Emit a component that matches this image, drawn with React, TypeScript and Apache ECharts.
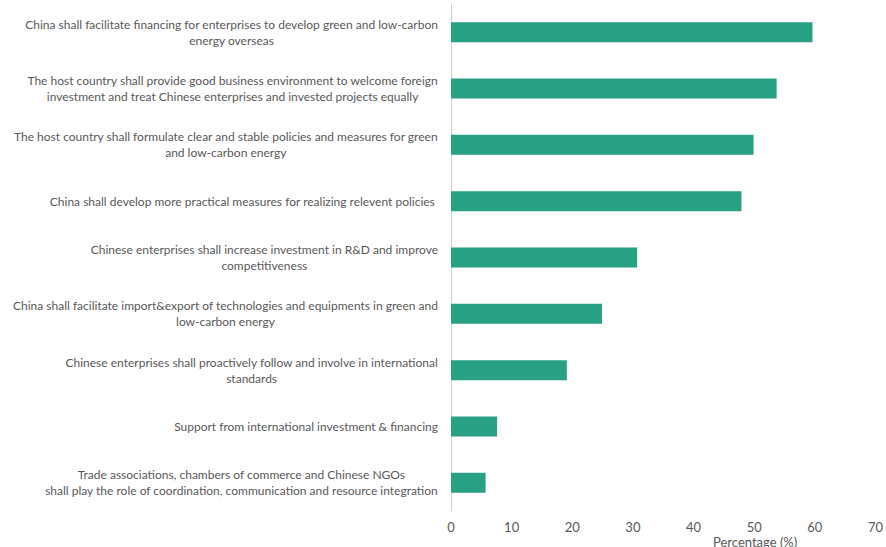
import React, { useEffect, useRef } from "react";
import * as echarts from "echarts";

const categories: string[] = [
  "China shall facilitate financing for enterprises to develop green and low-carbon\nenergy overseas",
  "The host country shall provide good business environment to welcome foreign\ninvestment and treat Chinese enterprises and invested projects equally",
  "The host country shall formulate clear and stable policies and measures for green\nand low-carbon energy",
  "China shall develop more practical measures for realizing relevent policies ",
  "Chinese enterprises shall increase investment in R&D and improve\ncompetitiveness",
  "China shall facilitate import&export of technologies and equipments in green and\nlow-carbon energy",
  "Chinese enterprises shall proactively follow and involve in international\nstandards",
  "Support from international investment & financing",
  "Trade associations, chambers of commerce and Chinese NGOs\nshall play the role of coordination, communication and resource integration",
];

const values: number[] = [59.6, 53.7, 49.9, 47.9, 30.7, 24.9, 19.1, 7.6, 5.7];

const xTicks: number[] = [0, 10, 20, 30, 40, 50, 60, 70];

const FONT = "Lato, 'Open Sans', sans-serif";

export default function App() {
  const ref = useRef<HTMLDivElement>(null);
  useEffect(() => {
    if (!ref.current) return;
    const chart = echarts.init(ref.current, null, { renderer: "svg" });
    chart.setOption({
      animation: false,
      backgroundColor: "#ffffff",
      grid: { left: 451, right: 6, top: 4, bottom: 36, containLabel: false },
      xAxis: {
        type: "value",
        min: xTicks[0],
        max: xTicks[xTicks.length - 1],
        interval: 10,
        axisLine: { show: false },
        axisTick: { show: false },
        splitLine: { show: false },
        axisLabel: {
          color: "#595959",
          fontSize: 13,
          fontFamily: FONT,
          margin: 9,
        },
      },
      yAxis: {
        type: "category",
        inverse: true,
        data: categories,
        axisLine: { show: true, lineStyle: { color: "#d0d0d0", width: 1 } },
        axisTick: { show: false },
        splitLine: { show: false },
        axisLabel: {
          color: "#595959",
          fontSize: 12,
          fontFamily: FONT,
          margin: 13,
          lineHeight: 16,
          align: "right",
          formatter: (v: string) =>
            v
              .split("\n")
              .map((l) => "{c|" + l + "}")
              .join("\n"),
          rich: {
            c: {
              align: "center",
              color: "#595959",
              fontSize: 12,
              fontFamily: FONT,
              lineHeight: 16,
            },
          },
        },
      },
      graphic: [
        {
          type: "text",
          left: 713,
          top: 535,
          style: {
            text: "Percentage (%)",
            fill: "#595959",
            fontSize: 13,
            fontFamily: FONT,
          },
        },
      ],
      series: [
        {
          type: "bar",
          data: values,
          barWidth: 20,
          itemStyle: { color: "#27a084" },
        },
      ],
    });
    return () => chart.dispose();
  }, []);
  return (
    <div
      ref={ref}
      style={{ position: "fixed", left: 0, top: 0, width: 886, height: 547 }}
    />
  );
}
